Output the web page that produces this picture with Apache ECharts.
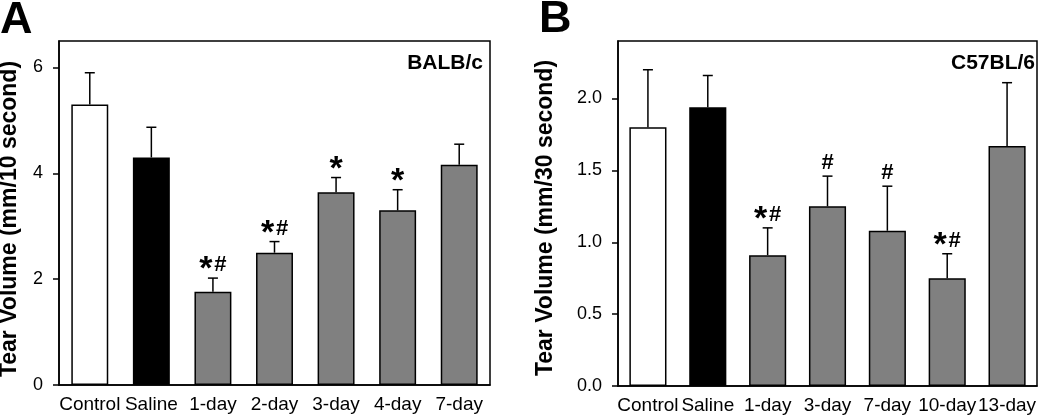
<!DOCTYPE html>
<html>
<head>
<meta charset="utf-8">
<script src="https://cdn.jsdelivr.net/npm/echarts@6/dist/echarts.min.js"></script>
<style>
html,body{margin:0;padding:0;background:#fff;}
#main{width:1050px;height:417px;}
</style>
</head>
<body>
<div id="main"></div>
<script>
// ---- Data ----
const categoriesA = ['Control', 'Saline', '1-day', '2-day', '3-day', '4-day', '7-day'];
const meanA = [5.30, 4.30, 1.76, 2.50, 3.64, 3.30, 4.16];
const sdA = [0.60, 0.57, 0.26, 0.21, 0.28, 0.39, 0.39];
const marksA = ['', '', '*#', '*#', '*', '*', ''];
const ticksA = [0, 2, 4, 6];

const categoriesB = ['Control', 'Saline', '1-day', '3-day', '7-day', '10-day', '13-day'];
const meanB = [1.80, 1.94, 0.91, 1.25, 1.08, 0.75, 1.67];
const sdB = [0.40, 0.22, 0.19, 0.21, 0.31, 0.17, 0.44];
const marksB = ['', '', '*#', '#', '#', '*#', ''];
const ticksB = [0, 0.5, 1.0, 1.5, 2.0];

const groupFill = ['#ffffff', '#000000', '#808080', '#808080', '#808080', '#808080', '#808080'];

const FONT = '"Liberation Sans", Arial, Helvetica, sans-serif';

function makeErrRender(marks) {
  return function (params, api) {
    const i = api.value(0);
    const m = api.value(1);
    const sd = api.value(2);
    const p0 = api.coord([i, m]);
    const p1 = api.coord([i, m + sd]);
    const cap = 5;
    const children = [
      { type: 'line', shape: { x1: p0[0], y1: p0[1], x2: p1[0], y2: p1[1] }, style: { stroke: '#000', lineWidth: 1.5 } },
      { type: 'line', shape: { x1: p1[0] - cap, y1: p1[1], x2: p1[0] + cap, y2: p1[1] }, style: { stroke: '#000', lineWidth: 1.5 } }
    ];
    const mk = marks[i] || '';
    const hasStar = mk.indexOf('*') >= 0;
    const hasHash = mk.indexOf('#') >= 0;
    const cy = p1[1] - 13;
    if (hasStar) {
      const sx = hasHash ? p1[0] - 7 : p1[0];
      children.push({ type: 'text', x: sx, y: cy + 5, style: { text: '*', fill: '#000', font: 'bold 34px ' + FONT, align: 'center', verticalAlign: 'middle' } });
    }
    if (hasHash) {
      const hx = hasStar ? p1[0] + 7.5 : p1[0];
      children.push({ type: 'text', x: hx, y: cy, style: { text: '#', fill: '#000', font: 'bold 22px ' + FONT, align: 'center', verticalAlign: 'middle' } });
    }
    return { type: 'group', children: children };
  };
}

function xAxisCfg(gi, cats) {
  return {
    type: 'category', gridIndex: gi, data: cats,
    axisLine: { lineStyle: { color: '#000', width: 1.5 } },
    axisTick: { show: false },
    axisLabel: { color: '#000', fontSize: 19, fontFamily: FONT, margin: 10, interval: 0 }
  };
}
function yAxisCfg(gi, max, interval, ticks, digits) {
  return {
    type: 'value', gridIndex: gi, min: 0, max: max, interval: interval,
    axisLine: { show: true, lineStyle: { color: '#000', width: 1.5 } },
    axisTick: { show: true, length: 6, lineStyle: { color: '#000', width: 1.5 }, customValues: ticks },
    axisLabel: { color: '#000', fontSize: 18, fontFamily: FONT, margin: 16, customValues: ticks,
      formatter: v => Number(v).toFixed(digits) },
    splitLine: { show: false }
  };
}

const chart = echarts.init(document.getElementById('main'), null, { renderer: 'canvas' });
chart.setOption({
  animation: false,
  backgroundColor: '#fff',
  grid: [
    { left: 59, top: 41, width: 431, height: 344, show: true, borderColor: '#000', borderWidth: 1.5, backgroundColor: 'transparent' },
    { left: 618, top: 41, width: 419, height: 345, show: true, borderColor: '#000', borderWidth: 1.5, backgroundColor: 'transparent' }
  ],
  xAxis: [xAxisCfg(0, categoriesA), xAxisCfg(1, categoriesB)],
  yAxis: [yAxisCfg(0, 6.5, 2, ticksA, 0), yAxisCfg(1, 2.4, 0.5, ticksB, 1)],
  series: [
    {
      type: 'bar', xAxisIndex: 0, yAxisIndex: 0, barWidth: '60%',
      data: meanA.map((v, i) => ({ value: v, itemStyle: { color: groupFill[i] } })),
      itemStyle: { borderColor: '#000', borderWidth: 1.5 }
    },
    {
      type: 'custom', xAxisIndex: 0, yAxisIndex: 0, clip: false, z: 5,
      renderItem: makeErrRender(marksA),
      encode: { x: 0, y: 1 },
      data: meanA.map((v, i) => [i, v, sdA[i]])
    },
    {
      type: 'bar', xAxisIndex: 1, yAxisIndex: 1, barWidth: '62%',
      data: meanB.map((v, i) => ({ value: v, itemStyle: { color: groupFill[i] } })),
      itemStyle: { borderColor: '#000', borderWidth: 1.5 }
    },
    {
      type: 'custom', xAxisIndex: 1, yAxisIndex: 1, clip: false, z: 5,
      renderItem: makeErrRender(marksB),
      encode: { x: 0, y: 1 },
      data: meanB.map((v, i) => [i, v, sdB[i]])
    }
  ],
  graphic: [
    { type: 'text', left: 0, top: -2, style: { text: 'A', fill: '#000', font: 'bold 45px ' + FONT } },
    { type: 'text', left: 539, top: -3, style: { text: 'B', fill: '#000', font: 'bold 45px ' + FONT } },
    { type: 'text', x: 483, y: 63, style: { text: 'BALB/c', fill: '#000', font: 'bold 21px ' + FONT, align: 'right', verticalAlign: 'middle' } },
    { type: 'text', x: 1035, y: 63, style: { text: 'C57BL/6', fill: '#000', font: 'bold 21px ' + FONT, align: 'right', verticalAlign: 'middle' } },
    { type: 'text', x: 10, y: 219, rotation: Math.PI / 2, style: { text: 'Tear Volume (mm/10 second)', fill: '#000', font: 'bold 23px ' + FONT, align: 'center', verticalAlign: 'middle' } },
    { type: 'text', x: 546, y: 218, rotation: Math.PI / 2, style: { text: 'Tear Volume (mm/30 second)', fill: '#000', font: 'bold 23px ' + FONT, align: 'center', verticalAlign: 'middle' } }
  ]
});
</script>
</body>
</html>
